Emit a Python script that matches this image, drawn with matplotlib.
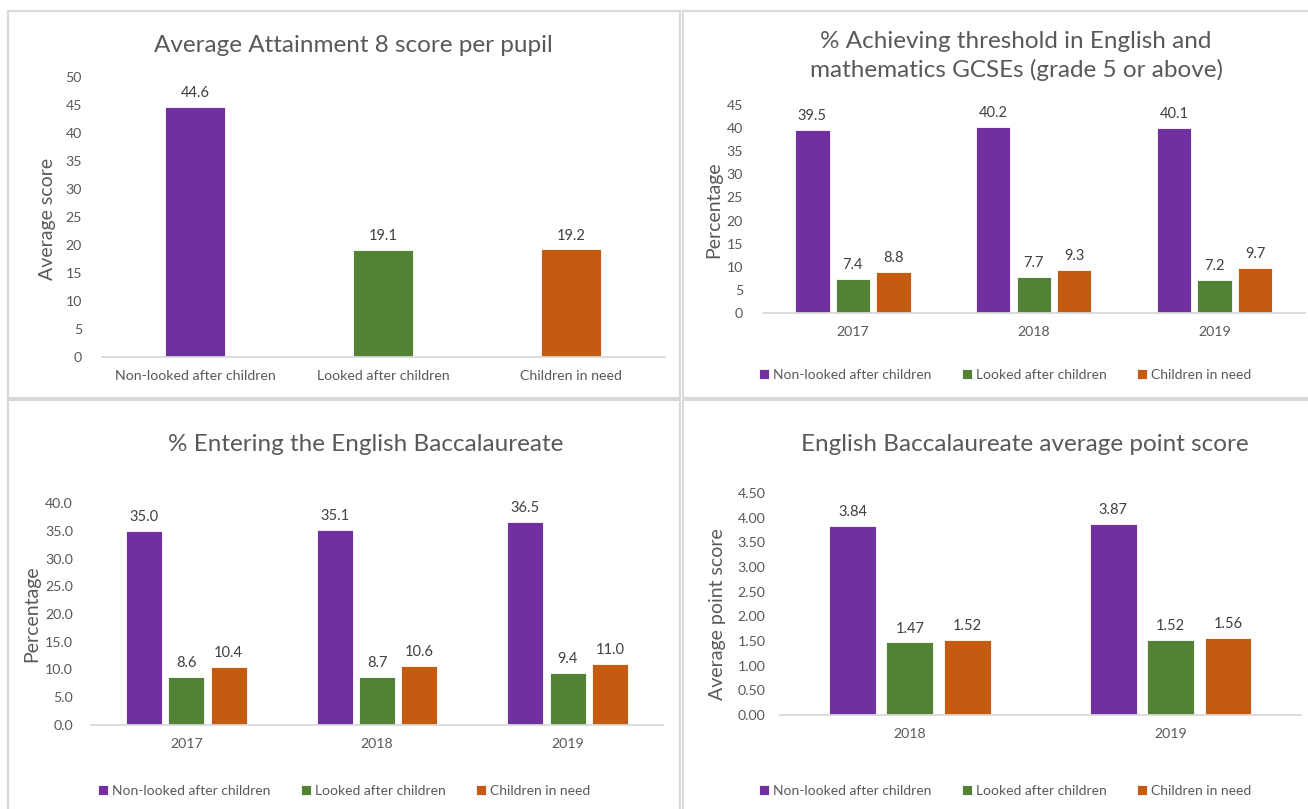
import matplotlib.pyplot as plt
import numpy as np
from matplotlib.patches import Rectangle

plt.rcParams['font.family'] = ['Lato', 'DejaVu Sans']

# data
groups = ['Non-looked after children', 'Looked after children', 'Children in need']
colors = ['#7030A0', '#548235', '#C55A11']

att8 = [44.6, 19.1, 19.2]

years_a = ['2017', '2018', '2019']
gcse_non = [39.5, 40.2, 40.1]
gcse_lac = [7.4, 7.7, 7.2]
gcse_cin = [8.8, 9.3, 9.7]

ebacc_non = [35.0, 35.1, 36.5]
ebacc_lac = [8.6, 8.7, 9.4]
ebacc_cin = [10.4, 10.6, 11.0]

years_b = ['2018', '2019']
aps_non = [3.84, 3.87]
aps_lac = [1.47, 1.52]
aps_cin = [1.52, 1.56]

W, H = 1308, 809
fig = plt.figure(figsize=(W / 100, H / 100), dpi=100)

grey = '#595959'
TITLE = 17.5
YLAB = 14


def px_axes(x0, x1, y0, y1):
    # pixel box (top-left origin) -> axes
    return fig.add_axes([x0 / W, (H - y1) / H, (x1 - x0) / W, (y1 - y0) / H])


def style(ax, ymax, step, fmt, ypad=10):
    ax.set_ylim(0, ymax)
    ax.set_yticks(np.arange(0, ymax + step / 2, step))
    ax.yaxis.set_major_formatter(plt.FuncFormatter(lambda v, p: fmt.format(v)))
    for s in ['top', 'right', 'left']:
        ax.spines[s].set_visible(False)
    ax.spines['bottom'].set_color('#d9d9d9')
    ax.spines['bottom'].set_linewidth(1.3)
    ax.tick_params(axis='both', length=0, colors=grey, labelsize=10.2)
    ax.tick_params(axis='x', pad=9)
    ax.tick_params(axis='y', pad=ypad)


def label_bars(ax, bars, fmt):
    for b in bars:
        ax.annotate(fmt.format(b.get_height()),
                    (b.get_x() + b.get_width() / 2, b.get_height()),
                    xytext=(0, 5), textcoords='offset points',
                    ha='center', va='bottom', fontsize=10.5, color='#404040')


def grouped(ax, cats, series, width, step, fmt):
    x = np.arange(len(cats))
    for i, (vals, c) in enumerate(zip(series, colors)):
        bars = ax.bar(x + (i - 1) * step, vals, width, color=c,
                      edgecolor='white', linewidth=0.6, label=groups[i])
        label_bars(ax, bars, fmt)
    ax.set_xticks(x)
    ax.set_xticklabels(cats)
    ax.set_xlim(-0.5, len(cats) - 0.5)


def legend(ax, cx, cy):
    ax.legend(loc='center', bbox_to_anchor=(cx / W, (H - cy) / H),
              bbox_transform=fig.transFigure, ncol=3, frameon=False,
              fontsize=10, handlelength=0.75, handleheight=0.75,
              handletextpad=0.25, columnspacing=2.2, labelcolor=grey)


# panel borders
for (x0, y0, x1, y1) in [(8, 11, 680, 398), (683, 11, 1310, 398),
                         (8, 400, 680, 812), (683, 400, 1310, 812)]:
    fig.add_artist(Rectangle((x0 / W, (H - y1) / H), (x1 - x0) / W, (y1 - y0) / H,
                             transform=fig.transFigure, fill=False,
                             edgecolor='#d9d9d9', linewidth=1.5))

# Panel 1
ax1 = px_axes(101.5, 665, 77, 357)
bars = ax1.bar(np.arange(3), att8, 0.32, color=colors, edgecolor='white', linewidth=0.6)
label_bars(ax1, bars, '{:.1f}')
ax1.set_xticks(np.arange(3))
ax1.set_xticklabels(groups)
ax1.set_xlim(-0.5, 2.5)
style(ax1, 50, 5, '{:.0f}', ypad=14)
fig.text(353 / W, 1 - 45 / H, 'Average Attainment 8 score per pupil',
         ha='center', va='center', fontsize=TITLE, color=grey)
fig.text(47 / W, 1 - 219 / H, 'Average score', rotation=90,
         ha='center', va='center', fontsize=YLAB, color=grey)

# Panel 2
ax2 = px_axes(762.5, 1305, 105, 313)
grouped(ax2, years_a, [gcse_non, gcse_lac, gcse_cin], 0.19, 0.224, '{:.1f}')
style(ax2, 45, 5, '{:.0f}', ypad=14)
fig.text(1016 / W, 1 - 56 / H,
         '% Achieving threshold in English and\nmathematics GCSEs (grade 5 or above)',
         ha='center', va='center', fontsize=TITLE, color=grey, linespacing=1.35)
fig.text(714 / W, 1 - 210 / H, 'Percentage', rotation=90,
         ha='center', va='center', fontsize=YLAB, color=grey)
legend(ax2, 1005, 375)

# Panel 3
ax3 = px_axes(91, 663, 503, 725)
grouped(ax3, years_a, [ebacc_non, ebacc_lac, ebacc_cin], 0.19, 0.222, '{:.1f}')
style(ax3, 40, 5, '{:.1f}', ypad=13)
fig.text(366 / W, 1 - 445 / H, '% Entering the English Baccalaureate',
         ha='center', va='center', fontsize=TITLE, color=grey)
fig.text(32 / W, 1 - 614 / H, 'Percentage', rotation=90,
         ha='center', va='center', fontsize=YLAB, color=grey)
legend(ax3, 344, 791)

# Panel 4
ax4 = px_axes(779.5, 1301, 493, 715)
grouped(ax4, years_b, [aps_non, aps_lac, aps_cin], 0.18, 0.22, '{:.2f}')
style(ax4, 4.5, 0.5, '{:.2f}', ypad=10)
fig.text(1025 / W, 1 - 445 / H, 'English Baccalaureate average point score',
         ha='center', va='center', fontsize=TITLE, color=grey)
fig.text(718 / W, 1 - 614 / H, 'Average point score', rotation=90,
         ha='center', va='center', fontsize=YLAB, color=grey)
legend(ax4, 1005, 791)

plt.savefig('out.png', dpi=100)
